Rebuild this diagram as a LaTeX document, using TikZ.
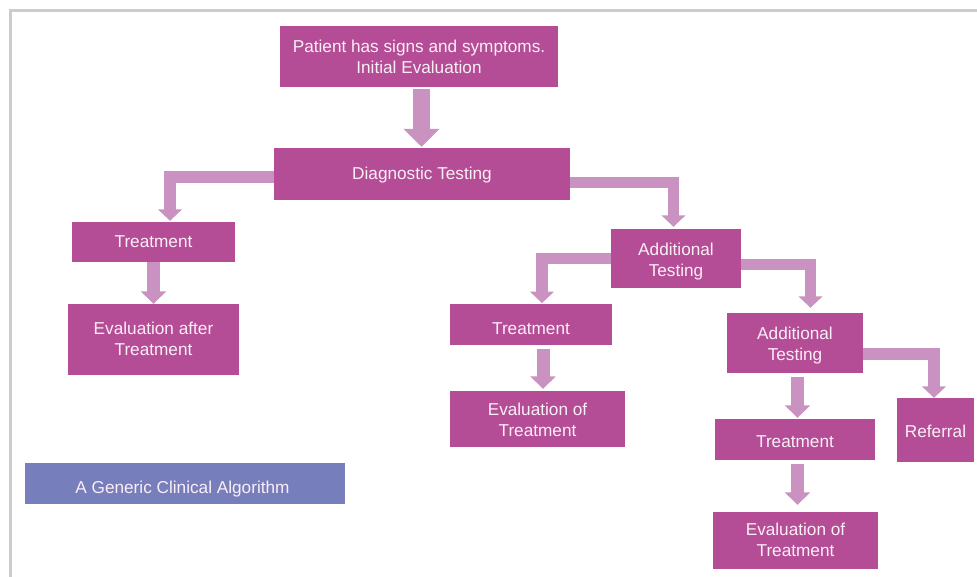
\documentclass[tikz,border=0pt]{standalone}
\usepackage{fontspec}
\setmainfont{Liberation Sans}
\usetikzlibrary{arrows.meta}
\definecolor{boxc}{RGB}{181,77,150}
\definecolor{arrc}{RGB}{201,146,192}
\definecolor{legc}{RGB}{118,126,187}
\definecolor{txtc}{RGB}{250,238,247}
\definecolor{framec}{RGB}{204,204,204}
\tikzset{
  box/.style={fill=boxc, draw=none, inner sep=0pt},
  txt/.style={text=txtc, align=center, inner sep=0pt,
    font=\fontsize{17.2}{21}\selectfont},
  elb/.style={draw=arrc, line width=11.3pt, line join=miter,
    -{Triangle[width=23.5pt,length=11.5pt]}},
  strt/.style={draw=arrc, line width=13pt,
    -{Triangle[width=25pt,length=12.5pt]}},
  bigarr/.style={draw=arrc, line width=17pt,
    -{Triangle[width=35pt,length=18pt]}},
}
\begin{document}
\begin{tikzpicture}[x=1pt,y=-1pt]
\useasboundingbox (0,0) rectangle (977,577);
\draw[framec, line width=2.5pt] (10.5,577) -- (10.5,10.5) -- (977,10.5);

% boxes
\node[box, minimum width=278pt, minimum height=61pt] (pat) at (419,56.5) {};
\node[box, minimum width=296pt, minimum height=52pt] (diag) at (422,174) {};
\node[box, minimum width=163pt, minimum height=40pt] (tl) at (153.5,242) {};
\node[box, minimum width=171pt, minimum height=71pt] (el) at (153.5,339.5) {};
\node[box, minimum width=130pt, minimum height=59pt] (at1) at (676,258.5) {};
\node[box, minimum width=162pt, minimum height=41pt] (tm) at (531,324.8) {};
\node[box, minimum width=175pt, minimum height=56pt] (em) at (537.5,419) {};
\node[box, minimum width=136pt, minimum height=60pt] (at2) at (795,343) {};
\node[box, minimum width=160pt, minimum height=41pt] (tr) at (795,439.5) {};
\node[box, minimum width=77pt, minimum height=64pt] (ref) at (935.5,430) {};
\node[box, minimum width=165pt, minimum height=57pt] (er) at (795.5,540.5) {};
\node[box, fill=legc, minimum width=320pt, minimum height=41pt] (leg) at (185,483.5) {};

% texts
\node[txt] (patT) at (pat) {Patient has signs and symptoms.\\Initial Evaluation};
\node[txt, yshift=-1pt] (diagT) at (diag) {Diagnostic Testing};
\node[txt] (tlT) at (tl) {Treatment};
\node[txt, yshift=1pt] (elT) at (el) {Evaluation after\\Treatment};
\node[txt, yshift=-3pt] (at1T) at (at1) {Additional\\Testing};
\node[txt, yshift=-4pt] (tmT) at (tm) {Treatment};
\node[txt, yshift=-1pt] (emT) at (em) {Evaluation of\\Treatment};
\node[txt, yshift=-3pt] (at2T) at (at2) {Additional\\Testing};
\node[txt, yshift=-2pt] (trT) at (tr) {Treatment};
\node[txt, yshift=-1.5pt] (refT) at (ref) {Referral};
\node[txt, yshift=1pt] (erT) at (er) {Evaluation of\\Treatment};
\node[txt, yshift=-6pt, xshift=-2.5pt] (legT) at (leg) {A Generic Clinical Algorithm};

% straight arrows
\draw[bigarr, shorten <=2pt, shorten >=1pt] ([xshift=2.5pt]pat.south) -- ([xshift=2.5pt]pat.south |- diag.north);
\draw[strt] (tl.south) -- (el.north);
\draw[strt, shorten <=3pt, shorten >=2pt] ([xshift=12pt]tm.south) -- ([xshift=12pt]tm.south |- em.north);
\draw[strt, shorten <=4pt, shorten >=1pt] ([xshift=2.5pt]at2.south) -- ([xshift=2.5pt]at2.south |- tr.north);
\draw[strt, shorten <=4pt, shorten >=7pt] ([xshift=2.5pt]tr.south) -- ([xshift=2.5pt]tr.south |- er.north);

% elbow arrows
\draw[elb, shorten >=1pt] ([yshift=-3pt]diag.west) -| ([xshift=16.5pt]tl.north);
\draw[elb, shorten >=2pt] ([yshift=-8.5pt]diag.east) -| ([xshift=-2.5pt]at1.north);
\draw[elb, shorten >=1pt] (at1.west) -| ([xshift=11pt]tm.north);
\draw[elb, shorten >=5pt] ([yshift=-6pt]at1.east) -| ([xshift=15.5pt]at2.north);
\draw[elb] ([yshift=-11pt]at2.east) -| ([xshift=-1.5pt]ref.north);
\end{tikzpicture}
\end{document}
